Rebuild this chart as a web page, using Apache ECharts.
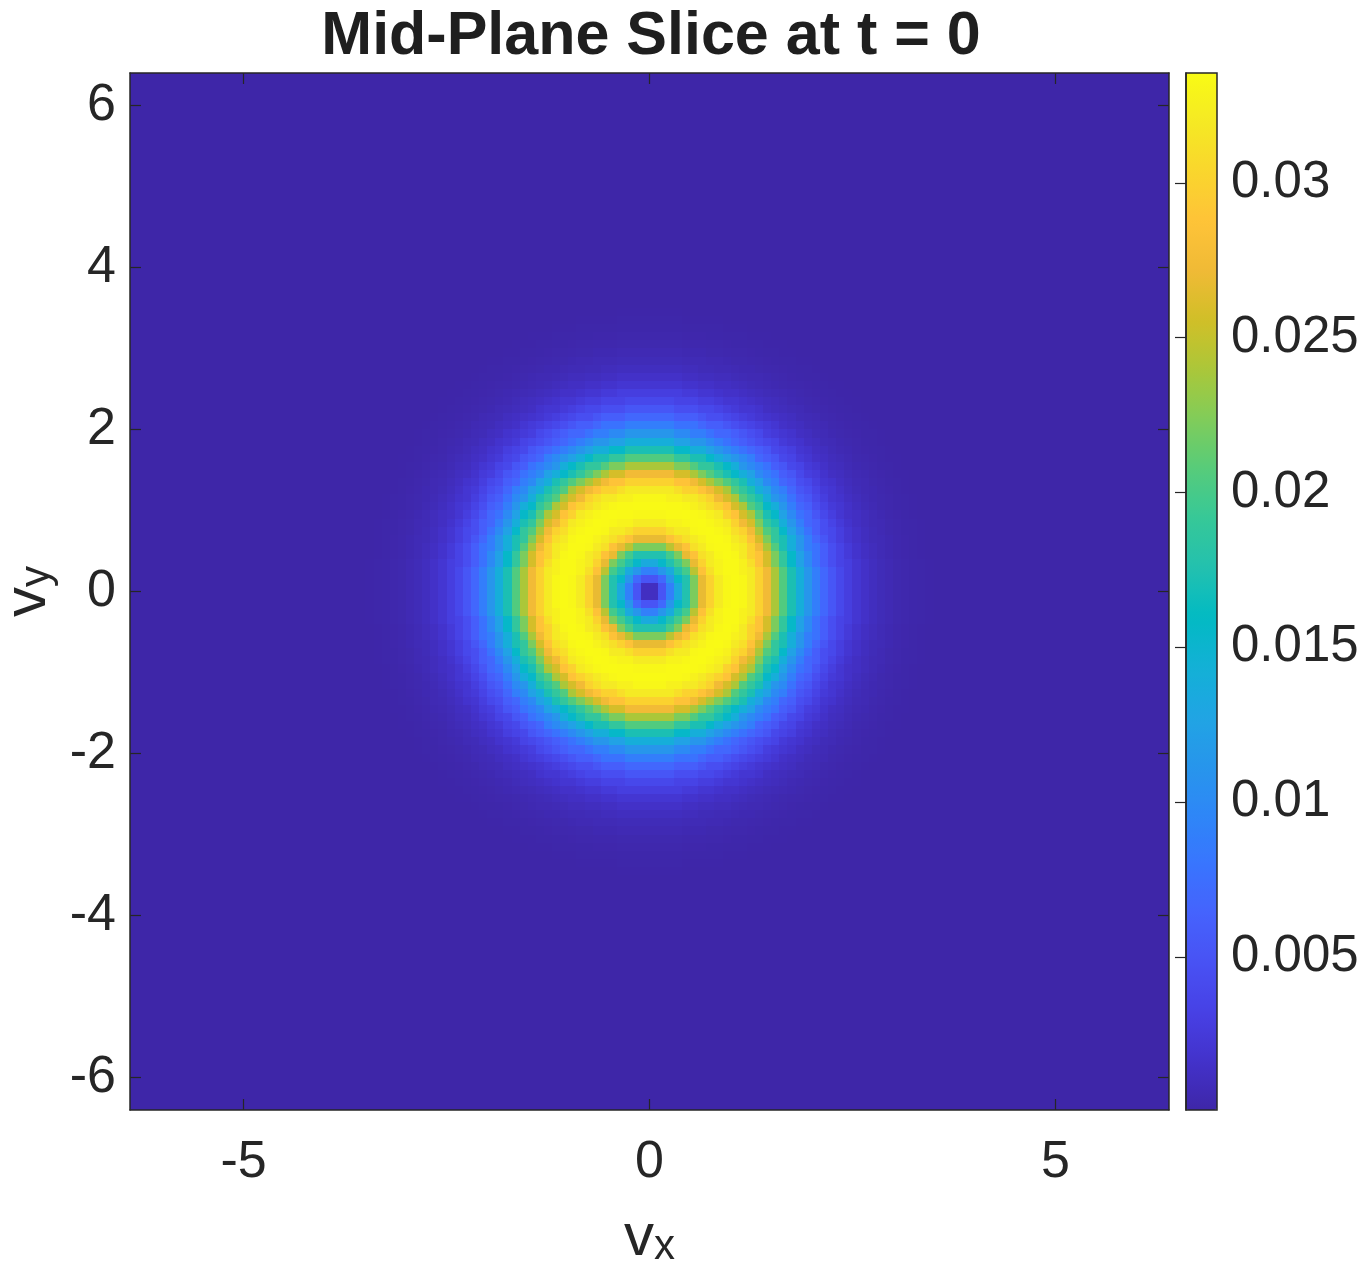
<!DOCTYPE html>
<html>
<head>
<meta charset="utf-8">
<title>Mid-Plane Slice at t = 0</title>
<script src="https://cdn.jsdelivr.net/npm/echarts@6/dist/echarts.min.js"></script>
<style>
  html, body { margin: 0; padding: 0; background: #fff; }
  #chart { width: 1360px; height: 1264px; }
</style>
</head>
<body>
<div id="chart"></div>
<script>
// velocity grid: 128 x 128 cells of width 0.1 from -6.4 to 6.4
const gridMin = -6.4;
const cellSize = 0.1;
const cellCount = 128;

// radial profile: |v| -> f, every 0.05
const radiusStep = 0.05;
const density = [
  0.0004, 0.0012, 0.0030, 0.0050, 0.0070, 0.0090, 0.0112, 0.0135, 0.0155, 0.0175,   // 0.00 - 0.45
  0.0198, 0.0222, 0.0246, 0.0268, 0.0286, 0.0300, 0.0312, 0.0321, 0.0328, 0.0332,   // 0.50 - 0.95
  0.0334, 0.0335, 0.0334, 0.0332, 0.0327, 0.0320, 0.0311, 0.0300, 0.0288, 0.0274,   // 1.00 - 1.45
  0.0258, 0.0240, 0.0222, 0.0205, 0.0188, 0.0172, 0.0156, 0.0140, 0.0125, 0.0112,   // 1.50 - 1.95
  0.0100, 0.0088, 0.0078, 0.0068, 0.0060, 0.0052, 0.0045, 0.0039, 0.0034, 0.0029,   // 2.00 - 2.45
  0.0025, 0.0021, 0.0018, 0.0015, 0.0013, 0.0011, 0.00095, 0.0008, 0.0007, 0.0006,  // 2.50 - 2.95
  0.0005, 0.0004, 0.00035, 0.0003, 0.00025, 0.0002, 0.00017, 0.00015, 0.00012, 0.0001, // 3.00 - 3.45
  0.00008                                                                            // 3.50
];
const background = 0.00006;

const xTicks = [-5, 0, 5];
const yTicks = [-6, -4, -2, 0, 2, 4, 6];
const barTicks = [0.005, 0.01, 0.015, 0.02, 0.025, 0.03];
const colorMin = 0.00006;
const colorMax = 0.03355;

// parula
const parula = ['#3e26a8', '#4332cb', '#4741e5', '#4852f4', '#4563fd', '#3875fe', '#2e87f7',
                '#2796eb', '#20a5e3', '#12b1d6', '#02bac3', '#24c1ae', '#37c897', '#57cc7a',
                '#81cc59', '#abc739', '#d1bf27', '#f0ba36', '#fec338', '#fad62d', '#f5e924', '#f9fb15'];

const font = '"Liberation Sans", Arial, Helvetica, sans-serif';
const ink = '#262626';

function lookup(r) {
  const i = Math.round(r / radiusStep);
  return i < density.length ? density[i] : background;
}

const cells = [];
for (let i = 0; i < cellCount; i++) {
  const vx = +(gridMin + (i + 0.5) * cellSize).toFixed(2);
  for (let j = 0; j < cellCount; j++) {
    const vy = +(gridMin + (j + 0.5) * cellSize).toFixed(2);
    cells.push([vx, vy, lookup(Math.hypot(vx, vy))]);
  }
}

const lineStyle = { color: ink, width: 1.5 };
const labelStyle = { fontSize: 52, color: ink, fontFamily: font };

function boxAxis(position, ticks, withLabels, margin) {
  return {
    type: 'value',
    gridIndex: 0,
    position: position,
    min: gridMin,
    max: -gridMin,
    z: 10,
    axisLine: { show: true, onZero: false, lineStyle: lineStyle },
    axisTick: { show: true, inside: true, length: 11, customValues: ticks, lineStyle: { color: ink, width: 1.2 } },
    axisLabel: Object.assign({ show: withLabels, customValues: ticks, margin: margin }, labelStyle),
    splitLine: { show: false }
  };
}

const nameStyle = {
  color: ink,
  fontFamily: font,
  rich: {
    v: { fontSize: 60, fontFamily: font, color: ink, lineHeight: 60, verticalAlign: 'top' },
    sub: { fontSize: 42, fontFamily: font, color: ink, lineHeight: 60, verticalAlign: 'bottom', padding: [24, 0, 0, 0] }
  }
};

const xMain = boxAxis('bottom', xTicks, true, 27);
xMain.name = '{v|v}{sub|x}';
xMain.nameLocation = 'middle';
xMain.nameGap = 98;
xMain.nameTextStyle = nameStyle;

const yMain = boxAxis('left', yTicks, true, 14);
yMain.name = '{v|v}{sub|y}';
yMain.nameLocation = 'middle';
yMain.nameGap = 72;
yMain.nameTextStyle = nameStyle;

const chart = echarts.init(document.getElementById('chart'), null, { renderer: 'canvas' });

chart.setOption({
  backgroundColor: '#fff',
  animation: false,
  title: {
    text: 'Mid-Plane Slice at t = 0',
    left: 651,
    top: 7,
    textAlign: 'center',
    padding: 0,
    textStyle: { fontSize: 61, fontWeight: 'bold', color: '#1f1f1f', fontFamily: font }
  },
  grid: [
    { left: 130, top: 73, width: 1039, height: 1037, show: false, containLabel: false, outerBoundsMode: 'none' },
    { left: 1186, top: 73, width: 31, height: 1037, show: true, borderColor: ink, borderWidth: 1.5,
      backgroundColor: 'transparent', z: 10, containLabel: false, outerBoundsMode: 'none' }
  ],
  xAxis: [
    xMain,
    boxAxis('top', xTicks, false, 0),
    { type: 'value', gridIndex: 1, min: 0, max: 1, show: false }
  ],
  yAxis: [
    yMain,
    boxAxis('right', yTicks, false, 0),
    {
      type: 'value',
      gridIndex: 1,
      position: 'right',
      min: colorMin,
      max: colorMax,
      z: 10,
      axisLine: { show: true, lineStyle: lineStyle },
      axisTick: { show: true, inside: true, length: 11, customValues: barTicks, lineStyle: { color: ink, width: 1.2 } },
      axisLabel: Object.assign({ customValues: barTicks, margin: 14, formatter: v => String(+(+v).toFixed(3)) },
                               labelStyle, { fontSize: 51 }),
      splitLine: { show: false }
    }
  ],
  visualMap: {
    type: 'continuous',
    seriesIndex: 0,
    dimension: 2,
    min: colorMin,
    max: colorMax,
    calculable: false,
    hoverLink: false,
    orient: 'vertical',
    left: 1186,
    top: 73,
    itemWidth: 31,
    itemHeight: 1037,
    padding: 0,
    text: null,
    inRange: { color: parula }
  },
  series: [{
    type: 'custom',
    coordinateSystem: 'cartesian2d',
    xAxisIndex: 0,
    yAxisIndex: 0,
    silent: true,
    clip: true,
    encode: { x: 0, y: 1 },
    data: cells,
    renderItem: function (params, api) {
      const half = cellSize / 2;
      const p0 = api.coord([api.value(0) - half, api.value(1) + half]);
      const p1 = api.coord([api.value(0) + half, api.value(1) - half]);
      const x0 = Math.round(p0[0]);
      const y0 = Math.round(p0[1]);
      return {
        type: 'rect',
        shape: { x: x0, y: y0, width: Math.round(p1[0]) - x0, height: Math.round(p1[1]) - y0 },
        style: { fill: api.visual('color') }
      };
    }
  }]
});
</script>
</body>
</html>
